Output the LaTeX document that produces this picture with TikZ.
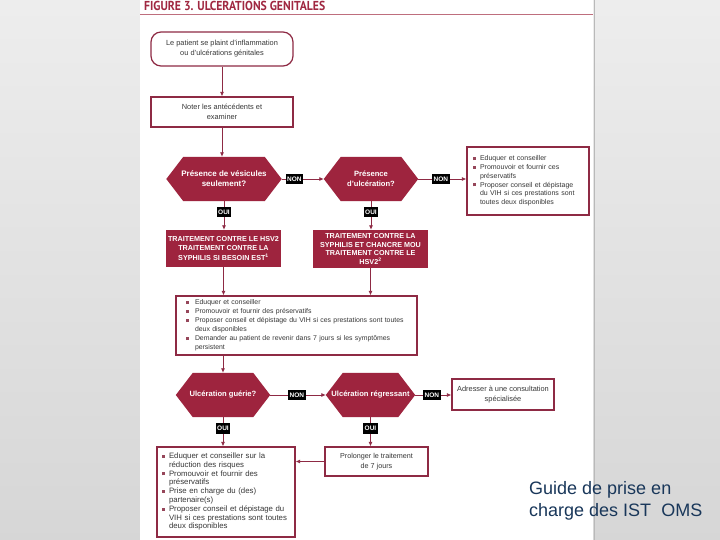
\documentclass[tikz,border=0pt]{standalone}
\usepackage{fontspec}
\setmainfont{Liberation Sans}
\newfontfamily\titlefont{PT Sans}
\usetikzlibrary{arrows.meta}
\definecolor{dr}{RGB}{158,36,62}
\definecolor{bd}{RGB}{142,42,68}
\definecolor{bul}{RGB}{150,70,90}
\definecolor{txt}{RGB}{55,55,55}
\definecolor{navy}{RGB}{25,55,90}
\definecolor{ttl}{RGB}{160,40,65}
\definecolor{uline}{RGB}{190,110,125}
\pgfdeclarelayer{bg}\pgfsetlayers{bg,main}
\newcommand\bul{\textcolor{bul}{\rule[0.2ex]{3pt}{3pt}}}
\begin{document}
\begin{tikzpicture}[x=1pt,y=-1pt,
 box/.style={draw=bd, line width=1.2pt, fill=white, text=txt, align=center, inner sep=0pt, font=\fontsize{7.4}{10}\selectfont},
 bbox/.style={draw=bd, line width=1.2pt, fill=white, text=txt, align=left, inner ysep=0pt},
 hex/.style={inner sep=0pt, text=white, align=center, font=\bfseries\fontsize{7.6}{10}\selectfont},
 fbox/.style={fill=dr, text=white, align=center, inner sep=0pt, font=\bfseries\fontsize{7.2}{9.5}\selectfont},
 tag/.style={fill=black, text=white, inner xsep=1.5pt, inner ysep=3pt, font=\bfseries\fontsize{6.5}{6.5}\selectfont},
 conn/.style={draw=bd, line width=0.8pt, -{Latex[length=4.5pt,width=4pt]}},
 hexfill/.style={fill=dr}
]
\useasboundingbox (0,0) rectangle (720,540);
\begin{pgfonlayer}{bg}
\shade[top color=gray!14, bottom color=gray!32] (0,0) rectangle (720,540);
\fill[white] (140,0) rectangle (593,540);
\draw[gray!55, line width=1.5pt] (594.5,0) -- (594.5,540);
\end{pgfonlayer}

% title
\node[anchor=west, inner sep=0pt, text=ttl, font=\titlefont\bfseries\fontsize{13}{13}\selectfont, xscale=0.9] (title) at (144,6) {FIGURE 3. ULCERATIONS GENITALES};
\draw[uline, line width=0.6pt] (140,14.5) -- (593,14.5);

% boxes
\node[box, rounded corners=10pt, minimum width=142pt, minimum height=34pt] (b1) at (222,49) {Le patient se plaint d'inflammation\\ou d'ulcérations génitales};
\node[box, minimum width=142pt, minimum height=30pt] (b2) at (222,112) {Noter les antécédents et\\examiner};

\node[hex, minimum width=115pt, minimum height=44pt, font=\bfseries\fontsize{8}{10}\selectfont] (h1) at (224,179) {Présence de vésicules\\seulement?};
\node[hex, minimum width=94pt, minimum height=44pt] (h2) at (371,179) {Présence\\d'ulcération?};

\node[bbox, minimum height=68pt, text width=110pt, inner xsep=6pt, font=\fontsize{7}{8.8}\selectfont] (r) at (528,181) {%
\begin{tabular}{@{}l@{\hspace{4pt}}l@{}}
\bul & Eduquer et conseiller\\
\bul & Promouvoir et fournir ces\\
 & préservatifs\\
\bul & Proposer conseil et dépistage\\
 & du VIH si ces prestations sont\\
 & toutes deux disponibles
\end{tabular}};

\node[fbox, minimum width=115pt, minimum height=37pt] (a) at (223.5,248.5) {TRAITEMENT CONTRE LE HSV2\\TRAITEMENT CONTRE LA\\SYPHILIS SI BESOIN EST\textsuperscript{1}};
\node[fbox, minimum width=115pt, minimum height=38pt, font=\bfseries\fontsize{7.2}{8.8}\selectfont] (b) at (370.5,249) {TRAITEMENT CONTRE LA\\SYPHILIS ET CHANCRE MOU\\TRAITEMENT CONTRE LE\\HSV2\textsuperscript{2}};

\node[bbox, minimum height=59pt, text width=221pt, inner xsep=10pt, font=\fontsize{6.9}{9}\selectfont] (c) at (296.5,325.5) {%
\begin{tabular}{@{}l@{\hspace{6pt}}l@{}}
\bul & Eduquer et conseiller\\
\bul & Promouvoir et fournir des préservatifs\\
\bul & Proposer conseil et dépistage du VIH si ces prestations sont toutes\\
 & deux disponibles\\
\bul & Demander au patient de revenir dans 7 jours si les symptômes\\
 & persistent
\end{tabular}};

\node[hex, minimum width=94pt, minimum height=44pt] (h3) at (223,395) {Ulcération guérie?};
\node[hex, minimum width=89pt, minimum height=44pt] (h4) at (370.5,395) {Ulcération régressant};

\node[box, minimum width=102pt, minimum height=31pt] (d) at (503,394.5) {Adresser à une consultation\\spécialisée};

\node[bbox, minimum height=90pt, text width=128pt, inner xsep=5pt, font=\fontsize{7.8}{8.8}\selectfont] (e) at (226,492) {%
\begin{tabular}{@{}l@{\hspace{4pt}}l@{}}
\bul & Eduquer et conseiller sur la\\
 & réduction des risques\\
\bul & Promouvoir et fournir des\\
 & préservatifs\\
\bul & Prise en charge du (des)\\
 & partenaire(s)\\
\bul & Proposer conseil et dépistage du\\
 & VIH si ces prestations sont toutes\\
 & deux disponibles
\end{tabular}};

\node[box, minimum width=103pt, minimum height=29pt, font=\fontsize{7.2}{10}\selectfont] (f) at (376.5,461.5) {Prolonger le traitement\\de 7 jours};

\node[anchor=north west, align=left, inner sep=0pt, text=navy, font=\fontsize{18}{22}\selectfont] (guide) at (529,481) {Guide de prise en\\charge des IST\ \ OMS};

% hexagon fills
\begin{pgfonlayer}{bg}
\foreach \n in {h1,h2,h3,h4}
  \fill[hexfill] (\n.west) -- ([xshift=17pt]\n.north west) -- ([xshift=-17pt]\n.north east) -- (\n.east) -- ([xshift=-17pt]\n.south east) -- ([xshift=17pt]\n.south west) -- cycle;
\end{pgfonlayer}

% connectors
\draw[conn] (b1) -- (b2);
\draw[conn] (b2.south) -- (b2.south |- h1.north);
\draw[conn] (h1.east) -- node[tag, pos=0.3] {NON} (h2.west);
\draw[conn] (h2.east) -- node[tag, pos=0.47] {NON} (r.west |- h2.east);
\draw[conn] (h1.south) -- node[tag, pos=0.38] {OUI} (h1.south |- a.north);
\draw[conn] (h2.south) -- node[tag, pos=0.38] {OUI} (h2.south |- b.north);
\draw[conn] (a.south) -- (a.south |- c.north);
\draw[conn] (b.south) -- (b.south |- c.north);
\draw[conn] (c.south -| h3.north) -- (h3.north);
\draw[conn] (h3.east) -- node[tag, pos=0.48] {NON} (h4.west);
\draw[conn] (h4.east) -- node[tag, pos=0.46] {NON} (d.west |- h4.east);
\draw[conn] (h3.south) -- node[tag, pos=0.38] {OUI} (h3.south |- e.north);
\draw[conn] (h4.south) -- node[tag, pos=0.38] {OUI} (h4.south |- f.north);
\draw[conn] (f.west) -- (f.west -| e.east);
\end{tikzpicture}
\end{document}
